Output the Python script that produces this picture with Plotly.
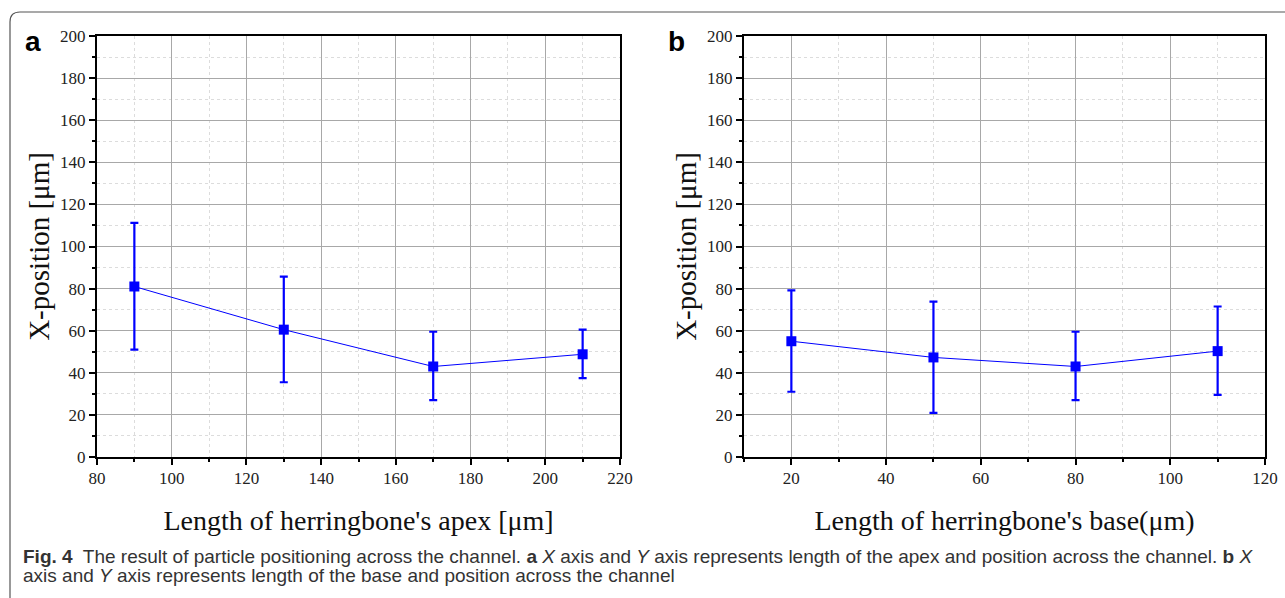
import plotly.graph_objects as go

# ---- data ----
apex_len = [90, 130, 170, 210]
apex_pos = [81, 60.5, 43, 48.8]
apex_hi = [111.2, 85.7, 59.5, 60.5]
apex_lo = [51, 35.5, 27, 37.5]

base_len = [20, 50, 80, 110]
base_pos = [55, 47.3, 43, 50.3]
base_hi = [79.2, 73.8, 59.5, 71.5]
base_lo = [31, 21, 27, 29.5]

y_ticks = [0, 20, 40, 60, 80, 100, 120, 140, 160, 180, 200]

W, H = 1285, 598
def px(x):
    return x / W
def py(y):
    return 1 - y / H

BLUE = "#0000FF"
SERIF = "Liberation Serif, Times New Roman, serif"
SANS = "Liberation Sans, Arial, sans-serif"

fig = go.Figure()

def add_series(x, y, hi, lo, xa, ya):
    fig.add_trace(go.Scatter(
        x=x, y=y, xaxis=xa, yaxis=ya, mode="lines+markers",
        line=dict(color=BLUE, width=1),
        marker=dict(symbol="square", size=10, color=BLUE),
        error_y=dict(type="data", symmetric=False,
                     array=[h - v for h, v in zip(hi, y)],
                     arrayminus=[v - l for v, l in zip(y, lo)],
                     color=BLUE, thickness=2.2, width=4),
        showlegend=False, hoverinfo="x+y"))

add_series(apex_len, apex_pos, apex_hi, apex_lo, "x", "y")
add_series(base_len, base_pos, base_hi, base_lo, "x2", "y2")

MINOR = dict(dtick=10, ticks="outside", ticklen=3, tickcolor="black",
             showgrid=True, gridcolor="#dcdcdc", griddash="dot")

common_x = dict(
    showline=True, linecolor="black", linewidth=2, mirror=True,
    ticks="outside", ticklen=6, tickwidth=1.5, tickcolor="black",
    showgrid=True, gridcolor="#a8a8a8", gridwidth=1,
    zeroline=False, automargin=False,
    tickfont=dict(family=SERIF, size=17, color="#222"),
    title_font=dict(family=SERIF, size=28, color="#111"),
    title_standoff=23,
    ticklabelstandoff=-1,
)
common_y = dict(common_x)
common_y["title_font"] = dict(family=SERIF, size=29, color="#111")
common_y["title_standoff"] = 2
common_y["ticklabelstandoff"] = 0

fig.update_layout(
    width=W, height=H,
    margin=dict(l=0, r=0, t=0, b=0),
    paper_bgcolor="white", plot_bgcolor="white",
    xaxis=dict(common_x, domain=[px(97), px(620)], range=[80, 220],
               dtick=20, tick0=80, anchor="y", minor=MINOR,
               title_text="Length of herringbone's apex [μm]"),
    yaxis=dict(common_y, domain=[py(457), py(36)], range=[0, 200],
               tickvals=y_ticks, anchor="x", minor=MINOR,
               title_text="X-position [μm]"),
    xaxis2=dict(common_x, domain=[px(744), px(1265)], range=[10, 120],
                dtick=20, tick0=0, anchor="y2", minor=MINOR,
                title_text="Length of herringbone's base(μm)"),
    yaxis2=dict(common_y, domain=[py(457), py(36)], range=[0, 200],
                tickvals=y_ticks, anchor="x2", minor=MINOR,
                title_text="X-position [μm]"),
)

# panel letters
for letter, xp in [("a", 33), ("b", 676)]:
    fig.add_annotation(text=f"<b>{letter}</b>", xref="paper", yref="paper",
                       x=px(xp), y=py(42), xanchor="center", yanchor="middle",
                       showarrow=False, font=dict(family=SANS, size=28, color="black"))

# caption (two lines, tight leading)
CAP = "Liberation Sans, Arial, sans-serif"
caption_lines = [
    "<b>Fig. 4</b>  The result of particle positioning across the channel. <b>a</b> <i>X</i> axis and "
    "<i>Y</i> axis represents length of the apex and position across the channel. <b>b</b> <i>X</i>",
    "axis and <i>Y</i> axis represents length of the base and position across the channel",
]
for line, yy in zip(caption_lines, [556, 575]):
    fig.add_annotation(text=line, xref="paper", yref="paper", x=px(21), y=py(yy),
                       xanchor="left", yanchor="middle", align="left", showarrow=False,
                       font=dict(family=CAP, size=19, color="#333"))

# outer rounded frame
r = 10
x0, y0 = 10, 12
path = (f"M {px(x0)} {py(H)} L {px(x0)} {py(y0 + r)} "
        f"Q {px(x0)} {py(y0)} {px(x0 + r)} {py(y0)} L {px(W)} {py(y0)}")
fig.add_shape(type="path", path=path, xref="paper", yref="paper",
              line=dict(color="#555", width=1.2))

fig.write_html("out.html", config={"displayModeBar": False},
               post_script="document.body.style.margin='0';")
